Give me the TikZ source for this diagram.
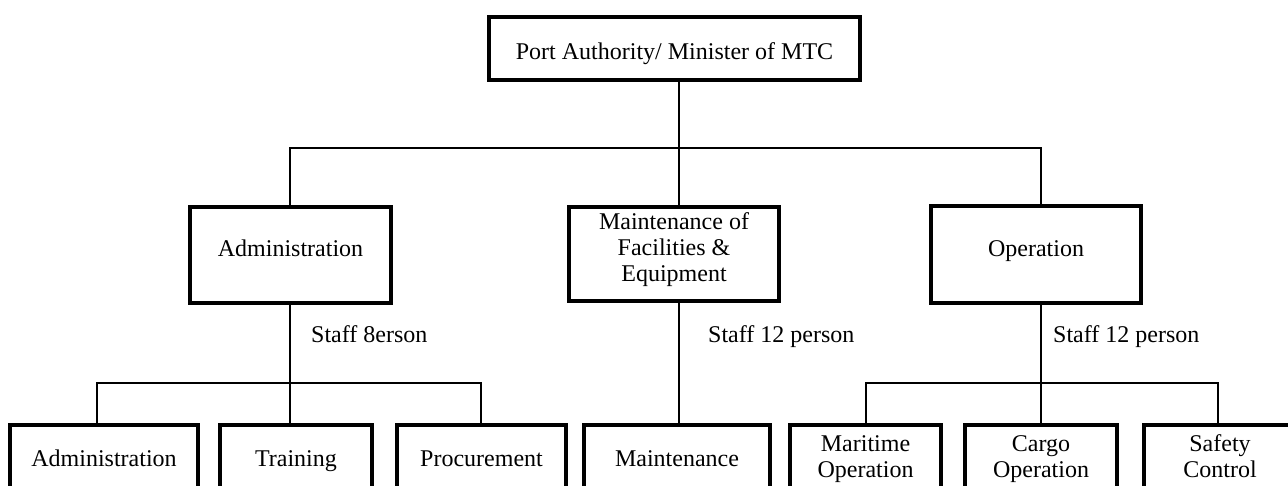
\documentclass[tikz,border=0pt]{standalone}
\usepackage{fontspec}
\setmainfont{Liberation Serif}
\newcommand{\ml}[1]{\begin{tabular}[b]{@{}c@{}}#1\end{tabular}}
\begin{document}
\begin{tikzpicture}[x=1pt,y=-1pt,
  box/.style={draw,line width=4pt,inner sep=0pt,font=\fontsize{24}{26}\selectfont},
  lbl/.style={anchor=base west,inner sep=0pt,font=\fontsize{24}{26}\selectfont},
  conn/.style={line width=1.8pt}]
\path[use as bounding box] (0,0) rectangle (1288,486);
\clip (0,0) rectangle (1288,486);
% top
\node[box,minimum width=371pt,minimum height=63pt,text height=25pt,text depth=2pt] (top) at (674.5,48.5) {Port Authority/ Minister of MTC};
% middle level
\node[box,minimum width=201pt,minimum height=96pt,text height=17pt,text depth=13pt] (admin) at (290.5,255) {Administration};
\node[box,minimum width=210pt,minimum height=94pt,text height=70pt,text depth=14pt] (maint) at (674,254) {\ml{Maintenance of\\Facilities \&\\Equipment}};
\node[box,minimum width=210pt,minimum height=97pt,text height=17pt,text depth=12pt] (oper) at (1036,254.5) {Operation};
% bottom level
\tikzset{bone/.style={box,minimum height=66pt,text height=18pt,text depth=2pt},
         btwo/.style={box,minimum height=66pt,text height=50pt,text depth=12pt}}
\node[bone,minimum width=188pt] (badmin) at (104,458) {Administration};
\node[bone,minimum width=152pt] (train) at (296,458) {Training};
\node[bone,minimum width=169pt] (proc) at (481.5,458) {Procurement};
\node[bone,minimum width=186pt] (bmaint) at (677,458) {Maintenance};
\node[btwo,minimum width=151pt] (mar) at (865.5,458) {\ml{Maritime\\Operation}};
\node[btwo,minimum width=152pt] (cargo) at (1041,458) {\ml{Cargo\\Operation}};
\node[btwo,minimum width=152pt] (safety) at (1220,458) {\ml{Safety\\Control}};
% staff labels
\node[lbl] (s1) at (311,342.5) {Staff 8erson};
\node[lbl] (s2) at (708,342.5) {Staff 12 person};
\node[lbl] (s3) at (1053,342.5) {Staff 12 person};
% bus coordinates
\coordinate (b1) at (679,148);
\coordinate (bl) at (290,148);
\coordinate (br) at (1041,148);
\coordinate (a1) at (97,383);
\coordinate (a2) at (290,383);
\coordinate (a3) at (481,383);
\coordinate (o1) at (866,383);
\coordinate (o2) at (1041,383);
\coordinate (o3) at (1218,383);
% connectors
\draw[conn] (top.south -| b1) -- (b1);
\draw[conn] (admin.north -| bl) -- (bl) -- (br) -- (oper.north -| br);
\draw[conn] (b1) -- (maint.north -| b1);
\draw[conn] (admin.south -| a2) -- (train.north -| a2);
\draw[conn] (badmin.north -| a1) -- (a1) -- (a3) -- (proc.north -| a3);
\draw[conn] (maint.south -| b1) -- (bmaint.north -| b1);
\draw[conn] (oper.south -| o2) -- (cargo.north -| o2);
\draw[conn] (mar.north -| o1) -- (o1) -- (o3) -- (safety.north -| o3);
\end{tikzpicture}
\end{document}
